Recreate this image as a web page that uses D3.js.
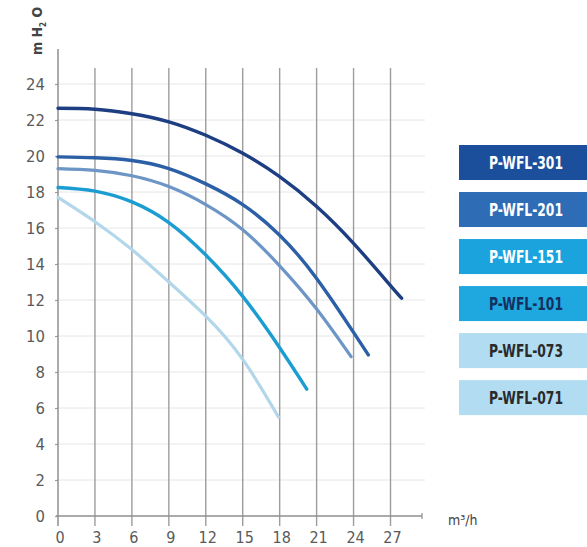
<!DOCTYPE html>
<html><head><meta charset="utf-8">
<script src="https://cdn.jsdelivr.net/npm/d3@7"></script>
<style>
html,body{margin:0;padding:0;background:#ffffff;}
svg{display:block;}
</style></head>
<body>
<svg id="chart" width="587" height="547"></svg>
<script>
// ---- data ----
const xTicks = [0,3,6,9,12,15,18,21,24,27];
const yTicks = [0,2,4,6,8,10,12,14,16,18,20,22,24];
const xLabel = "m³/h";
const models = ["P-WFL-301","P-WFL-201","P-WFL-151","P-WFL-101","P-WFL-073","P-WFL-071"];
// flow (m3/h) and head (m H2O) points per curve
const flow301 = [0,3,6,9,12,15,18,21,24,27,27.9];
const head301 = [22.65,22.6,22.35,21.9,21.15,20.15,18.85,17.2,15.15,12.8,12.1];
const flow201 = [0,3,6,9,12,15,18,21,24,25.2];
const head201 = [19.95,19.9,19.75,19.3,18.45,17.3,15.6,13.2,10.2,8.95];
const flow151 = [0,3,6,9,12,15,18,21,23.8];
const head151 = [19.3,19.2,18.9,18.3,17.3,15.9,13.9,11.5,8.85];
const flow101 = [0,3,6,9,12,15,18,20.2];
const head101 = [18.25,18.05,17.45,16.3,14.5,12.2,9.35,7.05];
const flow073 = [0,3,6,9,12,15,17.9];
const head073 = [17.7,16.35,14.8,13.0,11.1,8.7,5.5];

const curves = [
  {flow: flow301, head: head301, color: "#1d3e82", w: 3.4},
  {flow: flow201, head: head201, color: "#2b5fa6", w: 3.4},
  {flow: flow151, head: head151, color: "#6d95c6", w: 3.2},
  {flow: flow101, head: head101, color: "#1c9dd2", w: 3.4},
  {flow: flow073, head: head073, color: "#b2d7ea", w: 3.2}
];
const legendFill = ["#1b4f9b","#2e6cb6","#1aa3dc","#1fa7df","#b2dcf1","#b2dcf1"];
const legendText = ["#ffffff","#ffffff","#ffffff","#13305e","#2a2a2a","#2a2a2a"];

// ---- chart ----
const svg = d3.select("#chart");
const x = d3.scaleLinear().domain([0,27]).range([58, 390.5]);
const y = d3.scaleLinear().domain([0,24]).range([516, 84]);
const font = "'DejaVu Sans Condensed','DejaVu Sans',sans-serif";

// horizontal faint gridlines
svg.append("g").selectAll("line").data(yTicks.filter(d=>d>0)).join("line")
  .attr("x1", x(0)).attr("x2", 425)
  .attr("y1", d=>y(d)).attr("y2", d=>y(d))
  .attr("stroke", "#e6e6e6").attr("stroke-width", 1);

// vertical gridlines
svg.append("g").selectAll("line").data(xTicks.filter(d=>d>0)).join("line")
  .attr("x1", d=>x(d)).attr("x2", d=>x(d))
  .attr("y1", 68).attr("y2", 526)
  .attr("stroke", "#9d9d9d").attr("stroke-width", 1.4);

// axes
const yAxis = d3.axisLeft(y).tickValues(yTicks).tickSize(3).tickFormat(d3.format("d"));
const gy = svg.append("g").attr("transform", `translate(${x(0)},0)`).call(yAxis);
gy.select(".domain").remove();
gy.selectAll(".tick line").attr("stroke", "#9d9d9d").attr("stroke-width", 1.2);
gy.selectAll(".tick text").attr("x", -13).attr("fill", "#5a5a5a").attr("font-size", 16.5).attr("font-family", font);
svg.append("line").attr("x1", x(0)).attr("x2", x(0)).attr("y1", 49).attr("y2", 526)
  .attr("stroke", "#8f8f8f").attr("stroke-width", 1.5);

const xAxis = d3.axisBottom(x).tickValues(xTicks).tickSize(0).tickFormat(d3.format("d"));
const gx = svg.append("g").attr("transform", `translate(1.5,${y(0)})`).call(xAxis);
gx.select(".domain").remove();
gx.selectAll(".tick text").attr("y", 16).attr("dy", "0.71em").attr("fill", "#5a5a5a")
  .attr("font-size", 16).attr("font-family", font);
svg.append("line").attr("x1", x(0) - 2).attr("x2", 422).attr("y1", y(0)).attr("y2", y(0))
  .attr("stroke", "#8f8f8f").attr("stroke-width", 1.5);
svg.append("line").attr("x1", 422).attr("x2", 422).attr("y1", y(0) - 3).attr("y2", y(0) + 3)
  .attr("stroke", "#8f8f8f").attr("stroke-width", 1.2);

// axis titles
svg.append("text").attr("x", 448).attr("y", 525).attr("fill", "#444")
  .attr("font-size", 14).attr("font-family", font).text(xLabel);
const yt = svg.append("text").attr("transform", "translate(42,55) rotate(-90)")
  .attr("fill", "#444").attr("font-size", 14).attr("font-weight", "bold").attr("font-family", font);
yt.append("tspan").text("m H");
yt.append("tspan").attr("dy", 4).attr("font-size", 8).text("2");
yt.append("tspan").attr("dy", -4).text(" O");

// curves
const line = d3.line().x(d=>x(d[0])).y(d=>y(d[1])).curve(d3.curveNatural);
svg.append("g").selectAll("path").data(curves).join("path")
  .attr("d", c => line(c.flow.map((f,i)=>[f, c.head[i]])))
  .attr("fill", "none").attr("stroke", c=>c.color)
  .attr("stroke-width", c=>c.w).attr("stroke-linecap", "round");

// legend
const band = d3.scaleBand().domain(models).range([145, 145 + 45.3*6]).paddingInner(0.22).paddingOuter(0);
const lg = svg.append("g").selectAll("g").data(models).join("g")
  .attr("transform", d=>`translate(459,${band(d)})`);
lg.append("rect").attr("width", 130).attr("height", 35)
  .attr("fill", (d,i)=>legendFill[i]);
lg.append("text").attr("x", 67).attr("y", 17.5).attr("dy", "0.36em")
  .attr("text-anchor", "middle").attr("font-weight", "bold")
  .attr("font-size", 17).attr("font-family", font)
  .attr("textLength", 74).attr("lengthAdjust", "spacingAndGlyphs")
  .attr("fill", (d,i)=>legendText[i]).text(d=>d);
</script>
</body></html>
